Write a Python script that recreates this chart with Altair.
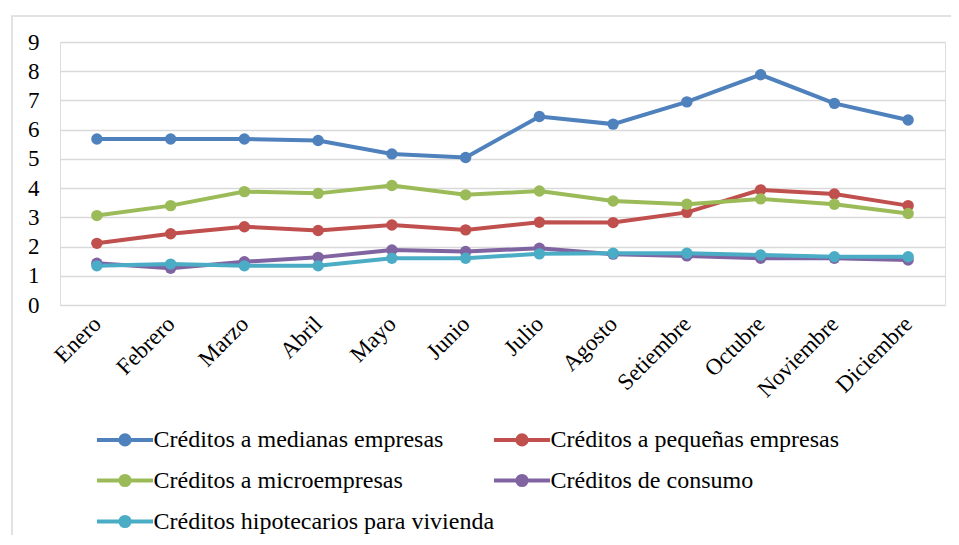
import altair as alt
import pandas as pd

meses = ["Enero", "Febrero", "Marzo", "Abril", "Mayo", "Junio", "Julio",
         "Agosto", "Setiembre", "Octubre", "Noviembre", "Diciembre"]
series = ["Créditos a medianas empresas", "Créditos a pequeñas empresas",
          "Créditos a microempresas", "Créditos de consumo",
          "Créditos hipotecarios para vivienda"]
medianas = [5.68, 5.68, 5.68, 5.63, 5.17, 5.05, 6.45, 6.19, 6.95, 7.88, 6.90, 6.33]
pequenas = [2.11, 2.44, 2.68, 2.55, 2.74, 2.57, 2.83, 2.82, 3.17, 3.94, 3.80, 3.40]
micro = [3.06, 3.40, 3.88, 3.82, 4.09, 3.77, 3.90, 3.56, 3.45, 3.63, 3.45, 3.13]
consumo = [1.43, 1.26, 1.48, 1.63, 1.88, 1.83, 1.94, 1.74, 1.68, 1.60, 1.60, 1.54]
hipotecarios = [1.34, 1.40, 1.34, 1.34, 1.60, 1.60, 1.75, 1.77, 1.77, 1.71, 1.65, 1.65]
colores = ["#4F81BD", "#C0504D", "#9BBB59", "#8064A2", "#4BACC6"]

rows = []
for s, vals in zip(series, [medianas, pequenas, micro, consumo, hipotecarios]):
    for i, (m, v) in enumerate(zip(meses, vals)):
        rows.append({"mes": m, "serie": s, "valor": v, "orden": series.index(s)})
df = pd.DataFrame(rows)

FONT = "Liberation Serif"
SYM = ("M-1.1,0H1.1M-0.18,0A0.18,0.18,0,1,1,0.18,0A0.18,0.18,0,1,1,-0.18,0Z"
       "M-0.08,0A0.08,0.08,0,1,1,0.08,0A0.08,0.08,0,1,1,-0.08,0Z")

x = alt.X("mes:N", sort=meses, title=None,
          scale=alt.Scale(paddingOuter=0.5, paddingInner=0),
          axis=alt.Axis(labelAngle=-45, labelFont=FONT, labelFontSize=23,
                        labelColor="#000000", labelPadding=15, ticks=False,
                        domain=False, grid=False, labelAlign="right",
                        labelBaseline="middle"))
y = alt.Y("valor:Q", title=None,
          scale=alt.Scale(domain=[0, 9], nice=False),
          axis=alt.Axis(values=list(range(10)), labelFont=FONT, labelFontSize=23,
                        labelColor="#000000", labelPadding=21, ticks=False,
                        domain=False, gridColor="#D9D9D9", gridWidth=1.5))
color = alt.Color("serie:N", sort=series, title=None,
                  scale=alt.Scale(domain=series, range=colores),
                  legend=alt.Legend(orient="none", legendX=37.5, legendY=370,
                                    direction="horizontal",
                                    columns=2, columnPadding=-12, rowPadding=0,
                                    symbolType=SYM, symbolSize=2601,
                                    symbolStrokeWidth=4, labelFont=FONT,
                                    labelFontSize=24, labelColor="#000000",
                                    labelOffset=1, labelLimit=500,
                                    gridAlign="all"))

lines = alt.Chart(df).mark_line(strokeWidth=4).encode(
    x=x, y=y, color=color, order="orden:Q")
points = alt.Chart(df).mark_point(filled=True, size=130, opacity=1).encode(
    x=x, y=y, color=alt.Color("serie:N", sort=series, legend=None,
                              scale=alt.Scale(domain=series, range=colores)))

frame = alt.Chart(pd.DataFrame({"a": [0]})).mark_rect(
    fill=None, stroke="#D9D9D9", strokeWidth=1.5).encode(
    x=alt.value(-48), x2=alt.value(1000), y=alt.value(-26), y2=alt.value(700))

chart = alt.layer(frame, lines, points).properties(
    width=885, height=263,
    autosize=alt.AutoSizeParams(type="none"),
    padding={"left": 52, "top": 34, "right": 6, "bottom": 230},
).configure_view(stroke=None).configure(background="white")

chart.save("out.html", embed_options={"renderer": "svg", "actions": False})
